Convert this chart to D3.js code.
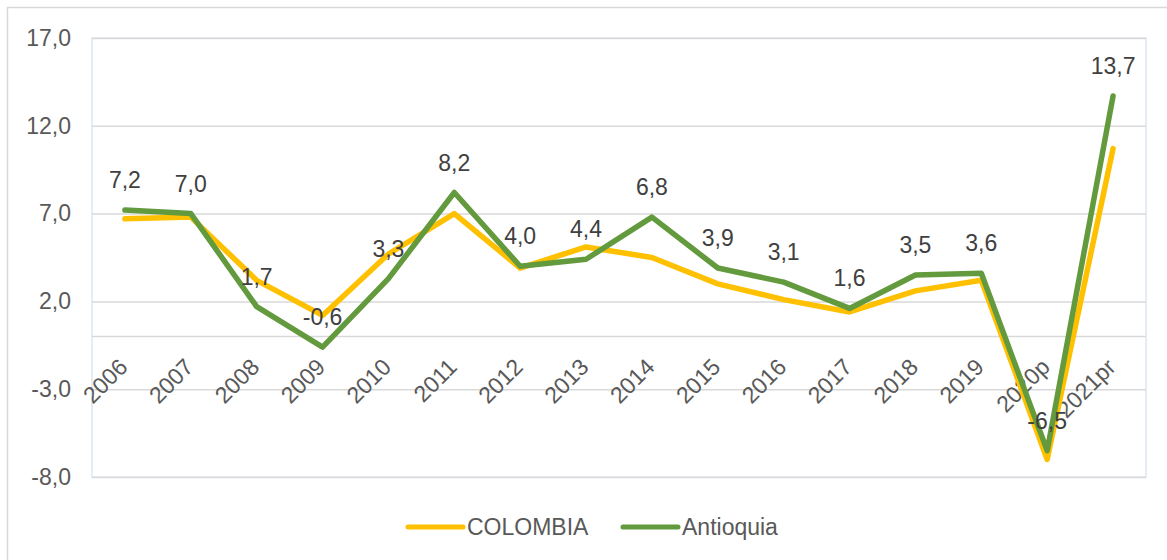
<!DOCTYPE html>
<html>
<head>
<meta charset="utf-8">
<script src="https://cdn.jsdelivr.net/npm/d3@7"></script>
<style>
  html, body { margin: 0; padding: 0; background: #fff; }
  svg { display: block; font-family: "Liberation Sans", Arial, sans-serif; }
</style>
</head>
<body>
<svg id="chart" width="1167" height="560"></svg>
<script>
const categories = ["2006","2007","2008","2009","2010","2011","2012","2013","2014","2015","2016","2017","2018","2019","2020p","2021pr"];
const colombia  = [6.7, 6.8, 3.2, 1.2, 4.7, 7.0, 3.9, 5.1, 4.5, 3.0, 2.1, 1.4, 2.6, 3.2, -7.0, 10.7];
const antioquia = [7.2, 7.0, 1.7, -0.6, 3.3, 8.2, 4.0, 4.4, 6.8, 3.9, 3.1, 1.6, 3.5, 3.6, -6.5, 13.7];
const yTicks = [17, 12, 7, 2, -3, -8];
const seriesNames = ["COLOMBIA", "Antioquia"];
const seriesColors = ["#FFC000", "#629A3D"];

const svg = d3.select("#chart");
const fmt = v => d3.format(".1f")(v).replace("\u2212", "-").replace(".", ",");
const FS = "23px";

const pLeft = 92, pRight = 1146, pTop = 38, pBottom = 477;

// outer chart border
svg.append("rect").attr("x", 7.5).attr("y", 7.5).attr("width", 1200).attr("height", 600)
  .attr("fill", "none").attr("stroke", "#d9d9d9").attr("stroke-width", 1.5);

const x = d3.scaleBand().domain(categories).range([pLeft, pRight]);
const y = d3.scaleLinear().domain([-8, 17]).range([pBottom, pTop]);
const cx = c => x(c) + x.bandwidth() / 2;

// plot area border
svg.append("rect").attr("x", pLeft).attr("y", pTop).attr("width", pRight - pLeft).attr("height", pBottom - pTop)
  .attr("fill", "none").attr("stroke", "#dce6f2").attr("stroke-width", 1.5);

// gridlines
const yAxis = d3.axisLeft(y).tickValues(yTicks).tickSize(-(pRight - pLeft)).tickFormat(fmt);
const gy = svg.append("g").attr("transform", `translate(${pLeft},0)`).call(yAxis);
gy.select(".domain").remove();
gy.selectAll(".tick line").attr("stroke", "#d9d9d9").attr("stroke-width", 1.5);
gy.selectAll(".tick text").attr("x", -21).attr("fill", "#595959").attr("font-size", FS);

// zero (category) axis line
svg.append("line").attr("x1", pLeft).attr("x2", pRight).attr("y1", y(0)).attr("y2", y(0))
  .attr("stroke", "#d9d9d9").attr("stroke-width", 1.5);

// category labels, rotated
const xAxis = d3.axisBottom(x).tickSize(0).tickPadding(0);
const gx = svg.append("g").attr("transform", `translate(0,${y(0)})`).call(xAxis);
gx.select(".domain").remove();
gx.selectAll(".tick text")
  .attr("fill", "#595959").attr("font-size", FS)
  .attr("text-anchor", "end")
  .attr("dy", null).attr("y", 0)
  .attr("transform", "translate(4,32) rotate(-45)");

// lines
const line = d3.line().x((d, i) => cx(categories[i])).y(d => y(d));
[colombia, antioquia].forEach((s, k) => {
  svg.append("path").datum(s).attr("d", line).attr("fill", "none")
    .attr("stroke", seriesColors[k]).attr("stroke-width", 5.5)
    .attr("stroke-linejoin", "round").attr("stroke-linecap", "round");
});

// data labels for Antioquia
svg.append("g").selectAll("text").data(antioquia).join("text")
  .attr("x", (d, i) => cx(categories[i]))
  .attr("y", d => y(d) - 30)
  .attr("dy", "0.35em")
  .attr("text-anchor", "middle")
  .attr("fill", "#404040").attr("font-size", FS)
  .text(fmt);

// legend
const legendItems = [{x: 408, name: seriesNames[0], color: seriesColors[0]},
                     {x: 623, name: seriesNames[1], color: seriesColors[1]}];
const lg = svg.append("g");
legendItems.forEach(it => {
  lg.append("line").attr("x1", it.x).attr("x2", it.x + 55).attr("y1", 527).attr("y2", 527)
    .attr("stroke", it.color).attr("stroke-width", 5).attr("stroke-linecap", "round");
  lg.append("text").attr("x", it.x + 59).attr("y", 527).attr("dy", "0.35em")
    .attr("fill", "#595959").attr("font-size", FS).text(it.name);
});
</script>
</body>
</html>
